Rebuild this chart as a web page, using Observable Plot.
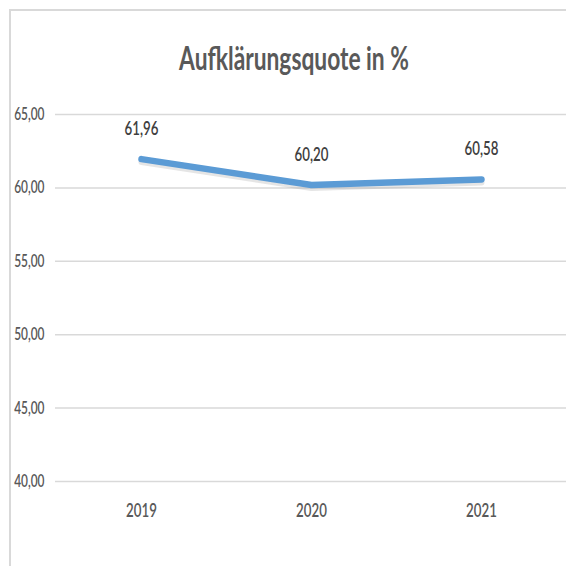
<!DOCTYPE html>
<html>
<head>
<meta charset="utf-8">
<script src="https://cdn.jsdelivr.net/npm/d3@7"></script>
<script src="https://cdn.jsdelivr.net/npm/@observablehq/plot@0.6"></script>
<style>
  body { margin: 0; background: #fff; }
  #wrap { position: relative; width: 566px; height: 566px; overflow: hidden; }
  #frame { position: absolute; left: 9px; top: 9px; width: 560px; height: 560px;
           border-top: 2px solid #d9d9d9; border-left: 2px solid #d9d9d9; box-sizing: border-box; }
  #title { position: absolute; top: 41px; left: 294px; transform: translateX(-50%) scaleX(0.69);
           font-family: Lato, sans-serif; font-weight: 700; font-size: 33px; line-height: 1; color: #595959;
           white-space: nowrap; margin: 0; }
  #chart { position: absolute; left: 0; top: 0; }
</style>
</head>
<body>
<div id="wrap">
  <div id="frame"></div>
  <div id="chart"></div>
  <h2 id="title">Aufklärungsquote in %</h2>
</div>
<script>
const years = ["2019", "2020", "2021"];
const values = [61.96, 60.20, 60.58];
const yTicks = [40, 45, 50, 55, 60, 65];

const data = years.map((y, i) => ({year: y, value: values[i]}));
const de = d => d.toFixed(2).replace(".", ",");

const chart = Plot.plot({
  width: 566,
  height: 566,
  marginTop: 114,
  marginBottom: 85,
  marginLeft: 55,
  marginRight: 0,
  style: {fontFamily: "Lato, sans-serif", background: "transparent", color: "#595959"},
  x: {type: "point", domain: years, padding: 0.5, label: null},
  y: {domain: [40, 65], label: null},
  marks: [
    Plot.ruleY(yTicks, {stroke: "#d9d9d9", strokeWidth: 1.5}),
    Plot.axisY({ticks: yTicks, tickSize: 0, tickPadding: 11, tickFormat: de, fontSize: 17, fontWeight: 600, fill: "#595959"}),
    Plot.axisX({tickSize: 0, tickPadding: 22, fontSize: 19, fontWeight: 600, fill: "#595959"}),
    Plot.line(data, {x: "year", y: "value", stroke: "#999", strokeOpacity: 0.25, strokeWidth: 6, dy: 3, strokeLinecap: "round"}),
    Plot.line(data, {x: "year", y: "value", stroke: "#5b9bd5", strokeWidth: 6.5, strokeLinecap: "round", strokeLinejoin: "round"}),
    Plot.text(data, {x: "year", y: "value", text: d => de(d.value), dy: -30, fontSize: 19, fontWeight: 600, fill: "#404040"})
  ]
});
// condensed look of the original typeface
chart.querySelectorAll("text").forEach(t => {
  const tr = t.getAttribute("transform") || "";
  t.setAttribute("transform", (tr + " scale(0.7,1)").trim());
});
document.getElementById("chart").appendChild(chart);
</script>
</body>
</html>
